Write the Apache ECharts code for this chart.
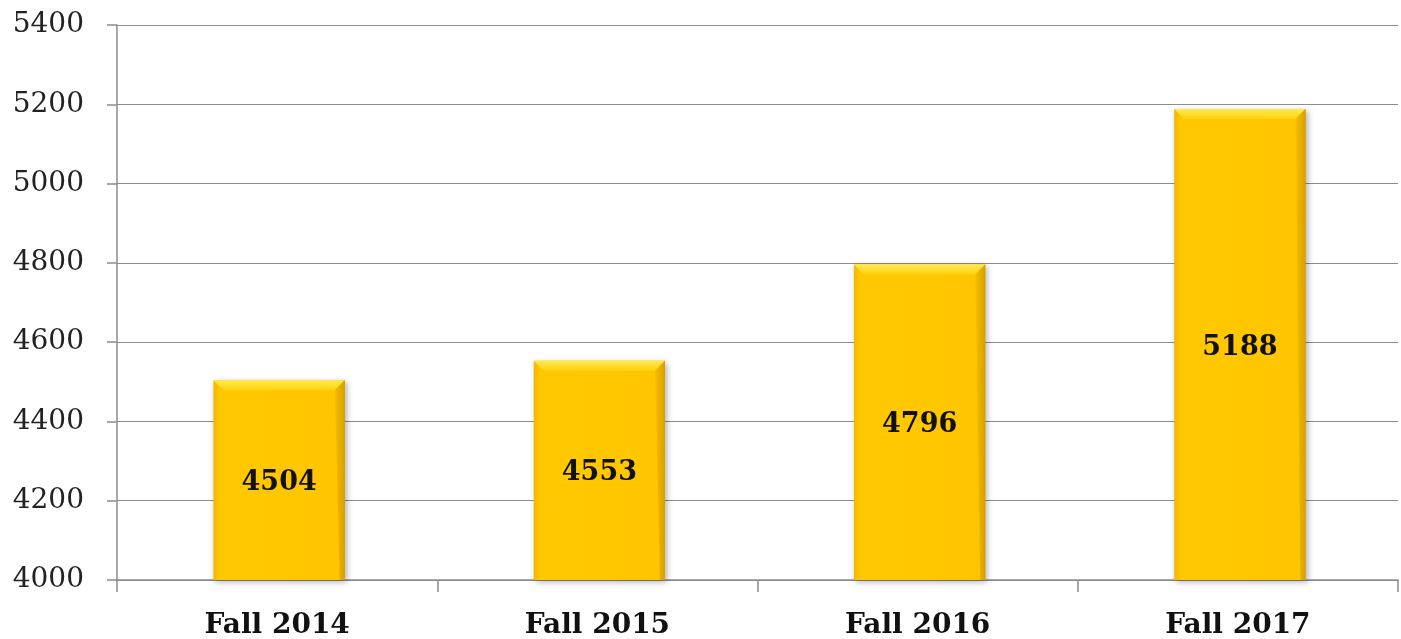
<!DOCTYPE html>
<html><head><meta charset="utf-8">
<script src="https://cdn.jsdelivr.net/npm/echarts@6/dist/echarts.min.js"></script>
<style>html,body{margin:0;padding:0;background:#fff}#c{width:1401px;height:639px}</style>
</head><body><div id="c"></div>
<script>
const categories = ['Fall 2014', 'Fall 2015', 'Fall 2016', 'Fall 2017'];
const enrollment = [4504, 4553, 4796, 5188];
const yTicks = [4000, 4200, 4400, 4600, 4800, 5000, 5200, 5400];

const chart = echarts.init(document.getElementById('c'));
const serif = "'DejaVu Serif', 'Liberation Serif', serif";
const G = echarts.graphic;

function renderBar(params, api) {
  const idx = api.value(0);
  const val = api.value(1);
  const top = api.coord([idx, val]);
  const base = api.coord([idx, yTicks[0]]);
  const w = api.size([1, 0])[0] * 0.41;
  const x0 = top[0] - w / 2 + 2, x1 = x0 + w;
  const y0 = top[1], y1 = base[1];
  const b = 10;
  return {
    type: 'group',
    children: [
      { type: 'rect', shape: { x: x0, y: y0, width: w, height: y1 - y0 },
        style: { fill: new G.LinearGradient(0, 0, 1, 0, [
          { offset: 0, color: '#F2B800' }, { offset: 0.05, color: '#FFC800' },
          { offset: 0.95, color: '#FFC600' }, { offset: 1, color: '#DCA400' }]),
          shadowColor: 'rgba(0,0,0,0.3)', shadowBlur: 6, shadowOffsetX: 2, shadowOffsetY: 2 } },
      { type: 'polygon', shape: { points: [[x0, y0], [x1, y0], [x1 - b, y0 + b], [x0 + b, y0 + b]] },
        style: { fill: new G.LinearGradient(0, 0, 0, 1, [
          { offset: 0, color: '#FFEA50' }, { offset: 1, color: '#FFD20E' }]) } },
      { type: 'polygon', shape: { points: [[x1, y0], [x1, y1], [x1 - 5, y1], [x1 - b, y0 + b]] },
        style: { fill: new G.LinearGradient(0, 0, 1, 0, [
          { offset: 0, color: '#F7BE00' }, { offset: 1, color: '#D6A000' }]) } },
      { type: 'text', style: { text: String(val), x: (x0 + x1) / 2, y: (y0 + y1) / 2 + 3,
          align: 'center', verticalAlign: 'middle', fill: '#111',
          font: "bold 27px 'DejaVu Serif', 'Liberation Serif', serif" } }
    ]
  };
}

chart.setOption({
  animation: false,
  grid: { left: 117, right: 3, top: 25, bottom: 59, outerBoundsMode: 'none', containLabel: false },
  xAxis: {
    type: 'category', data: categories,
    axisLine: { show: true, lineStyle: { color: '#8c8c8c', width: 1.5 } },
    axisTick: { show: true, length: 12, lineStyle: { color: '#8c8c8c', width: 1.5 } },
    axisLabel: { color: '#111', fontFamily: serif, fontWeight: 'bold', fontSize: 28, margin: 32 }
  },
  yAxis: {
    type: 'value', min: yTicks[0], max: yTicks[yTicks.length - 1], interval: 200,
    axisLine: { show: true, lineStyle: { color: '#8c8c8c', width: 1.5 } },
    axisTick: { show: true, length: 10, lineStyle: { color: '#8c8c8c', width: 1.5 } },
    splitLine: { lineStyle: { color: '#8c8c8c', width: 1.2 } },
    axisLabel: { color: '#222', fontFamily: serif, fontSize: 28, margin: 33, formatter: v => String(v) }
  },
  series: [{
    type: 'custom', renderItem: renderBar,
    data: enrollment.map((v, i) => [i, v]),
    encode: { x: 0, y: 1 }
  }]
});
</script></body></html>
